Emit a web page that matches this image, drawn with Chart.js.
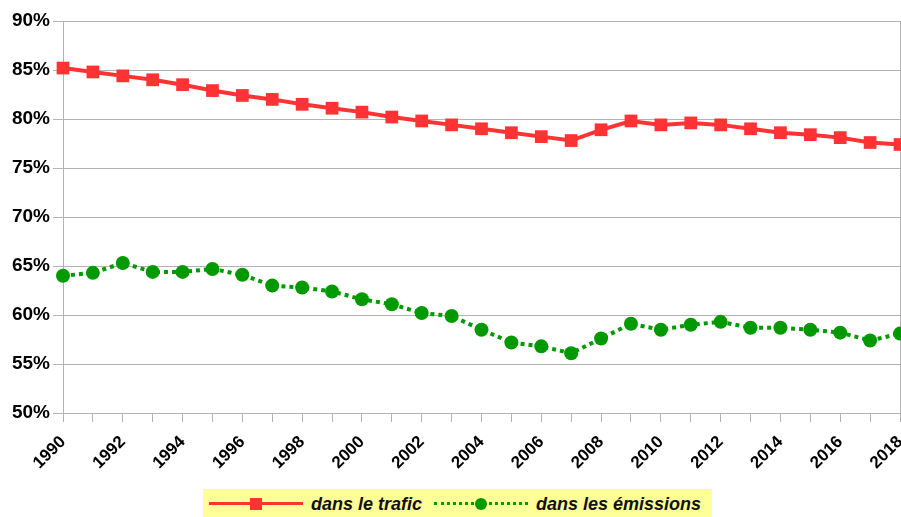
<!DOCTYPE html>
<html>
<head>
<meta charset="utf-8">
<script src="https://cdn.jsdelivr.net/npm/chart.js@4"></script>
<style>
  html, body { margin: 0; padding: 0; background: #fff; }
  #wrap { position: relative; width: 901px; height: 517px; overflow: hidden; }
  #legend {
    position: absolute; left: 203px; top: 489px; width: 509px; height: 30px;
    background: #ffff99; display: flex; align-items: center;
    font: italic bold 18px "Liberation Sans", Arial, sans-serif; color: #111;
  }
  .sym { position: relative; width: 94px; height: 14px; margin-left: 6px; margin-right: 8px; }
  .sym .ln { position: absolute; left: 0; right: 0; top: 5px; height: 0; }
  .sym .mk { position: absolute; left: 41px; top: 1px; width: 12px; height: 12px; }
</style>
</head>
<body>
<div id="wrap">
  <!-- canvas a bit wider than the window so the plot reaches the right edge -->
  <canvas id="chart" width="909" height="517"></canvas>
  <div id="legend">
    <span class="sym"><span class="ln" style="border-top: 3px solid #ff3333"></span><span class="mk" style="background:#ff3333"></span></span>
    <span>dans le trafic</span>
    <span class="sym" style="margin-left: 12px"><span class="ln" style="border-top: 3px dotted #009900"></span><span class="mk" style="background:#009900; border-radius: 50%"></span></span>
    <span>dans les émissions</span>
  </div>
</div>
<script>
  // values (%)
  const years = [1990, 1991, 1992, 1993, 1994, 1995, 1996, 1997, 1998, 1999,
    2000, 2001, 2002, 2003, 2004, 2005, 2006, 2007, 2008, 2009,
    2010, 2011, 2012, 2013, 2014, 2015, 2016, 2017, 2018];
  const trafic = [85.2, 84.8, 84.4, 84.0, 83.5, 82.9, 82.4, 82.0, 81.5, 81.1,
    80.7, 80.2, 79.8, 79.4, 79.0, 78.6, 78.2, 77.8, 78.9, 79.8,
    79.4, 79.6, 79.4, 79.0, 78.6, 78.4, 78.1, 77.6, 77.4];
  const emissions = [64.0, 64.3, 65.3, 64.4, 64.4, 64.7, 64.1, 63.0, 62.8, 62.4,
    61.6, 61.1, 60.2, 59.9, 58.5, 57.2, 56.8, 56.1, 57.6, 59.1,
    58.5, 59.0, 59.3, 58.7, 58.7, 58.5, 58.2, 57.4, 58.1];
  const yMin = 50, yMax = 90, yStep = 5;

  const gridColor = '#b3b3b3';
  const tickFont = { family: '"Liberation Sans", Arial, sans-serif', weight: 'bold' };

  const ctx = document.getElementById('chart').getContext('2d');
  new Chart(ctx, {
    type: 'line',
    data: {
      labels: years.map(String),
      datasets: [
        {
          label: 'dans le trafic',
          data: trafic,
          borderColor: '#ff3333',
          backgroundColor: '#ff3333',
          borderWidth: 4,
          pointStyle: 'rect',
          pointRadius: 9,
          pointBorderWidth: 0,
          tension: 0
        },
        {
          label: 'dans les émissions',
          data: emissions,
          borderColor: '#009900',
          backgroundColor: '#009900',
          borderWidth: 4,
          borderDash: [4, 4],
          pointStyle: 'circle',
          pointRadius: 7,
          pointBorderWidth: 0,
          tension: 0
        }
      ]
    },
    options: {
      responsive: false,
      animation: false,
      layout: { padding: { top: 21, right: 1, left: 0, bottom: 0 } },
      plugins: { legend: { display: false }, tooltip: { enabled: false } },
      scales: {
        x: {
          offset: false,
          afterFit: s => { s.height = 104; s.paddingLeft = 0; s.paddingRight = 0; },
          grid: {
            drawOnChartArea: true,
            color: c => (c.index === years.length - 1 ? gridColor : 'rgba(0,0,0,0)'),
            tickColor: gridColor,
            tickLength: 9,
            lineWidth: 1
          },
          border: { display: true, color: gridColor, width: 1 },
          ticks: {
            autoSkip: false,
            maxRotation: 45,
            minRotation: 45,
            padding: 10,
            color: '#000',
            font: { ...tickFont, size: 17 },
            callback: function (v, i) { return years[i] % 2 === 0 ? String(years[i]) : ''; }
          }
        },
        y: {
          min: yMin,
          max: yMax,
          afterFit: s => { s.width = 63; s.paddingTop = 0; s.paddingBottom = 0; },
          grid: { color: gridColor, tickLength: 10, lineWidth: 1 },
          border: { display: true, color: gridColor, width: 1 },
          ticks: {
            stepSize: yStep,
            padding: 3,
            color: '#000',
            font: { ...tickFont, size: 19 },
            callback: v => v + '%'
          }
        }
      }
    }
  });
</script>
</body>
</html>
